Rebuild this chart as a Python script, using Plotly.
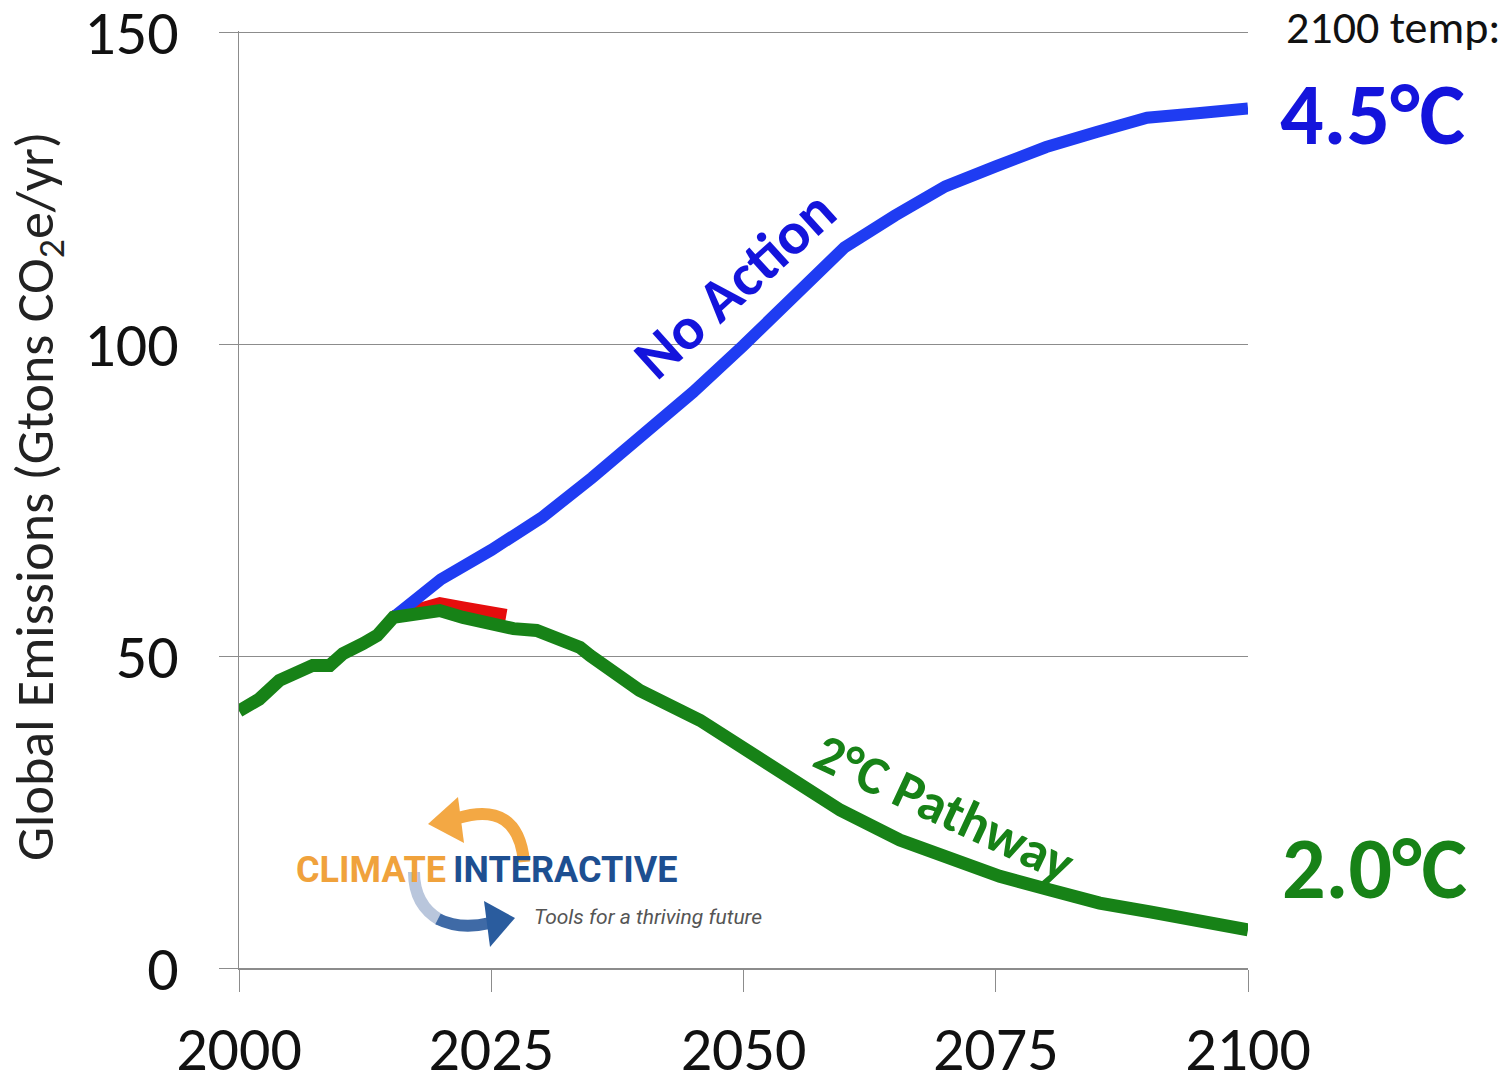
import plotly.graph_objects as go

# Global emissions pathways, Gt CO2e per year
green_years = [2000, 2002, 2004, 2005.7, 2007.3, 2009, 2010.3, 2012.3, 2013.7, 2015.3,
               2017.6, 2019.9, 2022.2, 2024.9, 2027.2, 2029.5, 2030.8, 2032.5, 2033.8,
               2034.8, 2039.7, 2045.7, 2050, 2054.6, 2059.6, 2065.5, 2071.5, 2075.4,
               2080.4, 2085.3, 2090.3, 2095.2, 2100]
green_vals = [41.2, 43.1, 46.1, 47.2, 48.5, 48.5, 50.4, 52.0, 53.3, 56.2,
              56.8, 57.3, 56.2, 55.2, 54.4, 54.1, 53.3, 52.2, 51.4,
              50.1, 44.5, 39.7, 35.2, 30.1, 25.3, 20.5, 17.0, 14.7,
              12.5, 10.4, 9.0, 7.7, 6.1]

blue_years = [2015.3, 2020, 2025, 2030, 2035, 2040, 2045, 2050, 2055, 2060,
              2065, 2070, 2075, 2080, 2085, 2090, 2095, 2100]
blue_vals = [56.2, 62.3, 67.0, 72.2, 78.6, 85.2, 92.3, 99.8, 107.6, 115.5,
             120.6, 125.3, 128.5, 131.6, 134.0, 136.3, 137.0, 137.8]

red_years = [2015.3, 2017.6, 2019.9, 2022.2, 2024.9, 2026.5]
red_vals = [56.4, 57.6, 58.5, 57.8, 57.0, 56.6]

x_ticks = [2000, 2025, 2050, 2075, 2100]
y_ticks = [0, 50, 100, 150]

BLUE = "#1f3cf2"
GREEN = "#178217"
RED = "#e60d0d"
GRID = "#8c8c8c"
FONT = "Carlito, Lato, sans-serif"
LOGO = "Roboto, sans-serif"

W, H = 1509, 1078
L, R, T, B = 239, 261, 31, 110
PW, PH = W - L - R, H - T - B


def px(xp):
    return (xp - L) / PW


def py(yp):
    return (T + PH - yp) / PH


fig = go.Figure()
fig.add_trace(go.Scatter(x=red_years, y=red_vals, mode="lines",
                         line=dict(color=RED, width=12), hoverinfo="skip"))
fig.add_trace(go.Scatter(x=blue_years, y=blue_vals, mode="lines",
                         line=dict(color=BLUE, width=12), hoverinfo="skip"))
fig.add_trace(go.Scatter(x=green_years, y=green_vals, mode="lines",
                         line=dict(color=GREEN, width=13), hoverinfo="skip"))

annotations = [
    dict(text="2100 temp:", x=px(1393), y=py(27), font=dict(family=FONT, size=46, color="#111")),
    dict(text="<b>4.5°C</b>", x=px(1372), y=py(115), font=dict(family=FONT, size=86, color="#1414dc")),
    dict(text="<b>2.0°C</b>", x=px(1374), y=py(868), font=dict(family=FONT, size=86, color=GREEN)),
    dict(text="<b>No Action</b>", x=px(734), y=py(284), textangle=-42,
         font=dict(family=FONT, size=60, color="#1414dc")),
    dict(text="<b>2°C Pathway</b>", x=px(944), y=py(808), textangle=25,
         font=dict(family=FONT, size=54, color=GREEN)),
    dict(text="Global Emissions (Gtons CO<sub>2</sub>e/yr)", x=px(38), y=py(497), textangle=-90,
         font=dict(family=FONT, size=54, color="#222")),
    # logo wordmark
    dict(text="<b>CLIMATE</b>", x=px(448), y=py(870), xanchor="right",
         font=dict(family=LOGO, size=36, color="#f0a23c")),
    dict(text="<b>INTERACTIVE</b>", x=px(451), y=py(870), xanchor="left",
         font=dict(family=LOGO, size=36, color="#1d4f91")),
    dict(text="Tools for a thriving future", x=px(532), y=py(917), xanchor="left",
         font=dict(family=LOGO, size=21, color="#555", style="italic")),
]
for a in annotations:
    a.setdefault("xanchor", "center")
    a.update(xref="paper", yref="paper", showarrow=False, yanchor="middle")

# logo arrows drawn as curved strokes with triangular heads
orange_arc = f"M {px(524)},{py(862)} Q {px(518)},{py(800)} {px(458)},{py(818)}"
orange_head = f"M {px(428)},{py(824)} L {px(458)},{py(797)} L {px(464)},{py(843)} Z"
blue_arc_light = f"M {px(414)},{py(872)} Q {px(414)},{py(905)} {px(440)},{py(920)}"
blue_arc_dark = f"M {px(438)},{py(919)} Q {px(460)},{py(930)} {px(490)},{py(923)}"
blue_head = f"M {px(515)},{py(918)} L {px(484)},{py(901)} L {px(490)},{py(947)} Z"

shapes = [
    dict(type="path", path=orange_arc, line=dict(color="#f3a844", width=12)),
    dict(type="path", path=orange_head, fillcolor="#f3a844", line=dict(width=0)),
    dict(type="path", path=blue_arc_light, line=dict(color="#b9c6dc", width=12)),
    dict(type="path", path=blue_arc_dark, line=dict(color="#3f6aa6", width=12)),
    dict(type="path", path=blue_head, fillcolor="#2a5c9e", line=dict(width=0)),
]
for s in shapes:
    s.update(xref="paper", yref="paper", layer="above")

fig.update_layout(
    width=W, height=H,
    margin=dict(l=L, r=R, t=T, b=B, pad=0),
    paper_bgcolor="white", plot_bgcolor="white",
    showlegend=False,
    annotations=annotations,
    shapes=shapes,
    xaxis=dict(range=[2000, 2100], tickvals=x_ticks, ticktext=[str(v) for v in x_ticks],
               showgrid=False, zeroline=False, showline=True, linecolor=GRID, linewidth=1.5,
               ticks="outside", ticklen=22, tickcolor=GRID, tickwidth=1,
               ticklabelstandoff=4, automargin=False, ticklabeloverflow="allow",
               tickfont=dict(family=FONT, size=62, color="#111")),
    yaxis=dict(range=[0, 150.2], tickvals=y_ticks, ticktext=[str(v) for v in y_ticks],
               showgrid=True, gridcolor=GRID, gridwidth=1, zeroline=False,
               showline=True, linecolor=GRID, linewidth=1,
               ticks="outside", ticklen=19, tickcolor=GRID, tickwidth=1,
               ticklabelstandoff=28, automargin=False, ticklabeloverflow="allow",
               tickfont=dict(family=FONT, size=62, color="#111")),
)

fig.write_html("out.html")
